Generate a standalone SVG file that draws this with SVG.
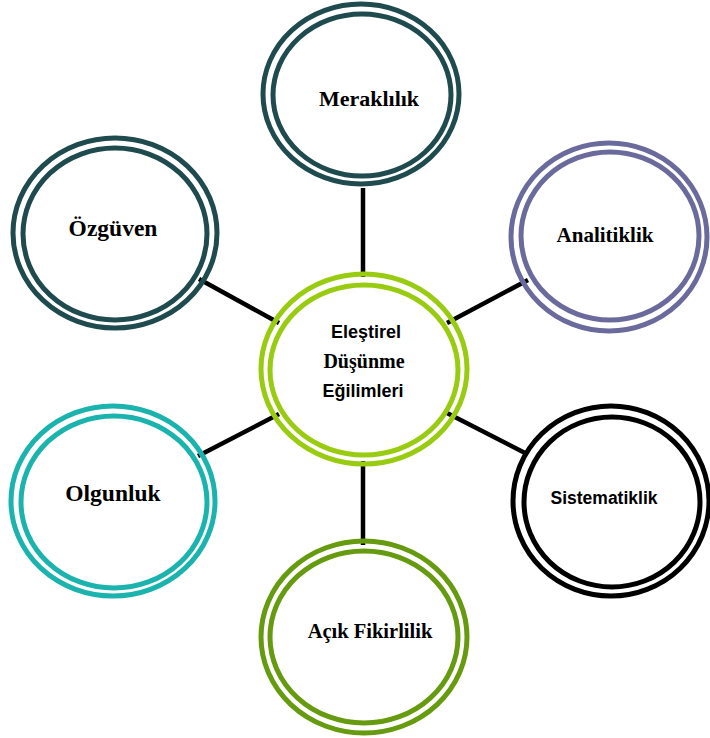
<svg xmlns="http://www.w3.org/2000/svg" width="710" height="738" viewBox="0 0 710 738">
<style>
.ring{fill:none;stroke-width:5}
.inner{fill:#fff}
.serif{font-family:"Liberation Serif","Times New Roman",serif;font-weight:bold;fill:#000}
.sans{font-family:"Liberation Sans",Arial,sans-serif;font-weight:bold;fill:#000}
.conn{stroke:#000;stroke-width:4.5;stroke-linecap:butt}
</style>
<rect width="710" height="738" fill="#fff"/>
<g id="connectors">
<line class="conn" x1="363" y1="188" x2="363" y2="277"/>
<line class="conn" x1="363" y1="461" x2="363" y2="545"/>
<line class="conn" x1="199" y1="279" x2="279" y2="323"/>
<line class="conn" x1="447" y1="323" x2="528" y2="280"/>
<line class="conn" x1="198" y1="456" x2="279" y2="414"/>
<line class="conn" x1="447" y1="413" x2="527" y2="454"/>
</g>
<g id="meraklilik">
<ellipse class="ring" cx="361" cy="94" rx="98" ry="90" stroke="#1f4b4f"/>
<ellipse class="ring" cx="362" cy="95" rx="89" ry="81" stroke="#1f4b4f"/>
<text class="serif" x="369" y="106" font-size="22" text-anchor="middle">Meraklılık</text>
</g>
<g id="ozguven">
<ellipse class="ring" cx="115" cy="233" rx="102" ry="95" stroke="#1f4b4f"/>
<ellipse class="ring" cx="115" cy="234" rx="92" ry="86" stroke="#1f4b4f"/>
<text class="serif" x="113" y="236" font-size="23.5" text-anchor="middle">Özgüven</text>
</g>
<g id="analitiklik">
<ellipse class="ring" cx="609" cy="237" rx="98" ry="94" stroke="#6b6a9c"/>
<ellipse class="ring" cx="610" cy="236" rx="89" ry="84" stroke="#6b6a9c"/>
<text class="serif" x="605" y="242" font-size="21" text-anchor="middle">Analitiklik</text>
</g>
<g id="olgunluk">
<ellipse class="ring" cx="113" cy="501" rx="102" ry="95" stroke="#1bb3ad"/>
<ellipse class="ring" cx="114" cy="502" rx="93" ry="86" stroke="#1bb3ad"/>
<text class="serif" x="113" y="501" font-size="23.5" text-anchor="middle">Olgunluk</text>
</g>
<g id="sistematiklik">
<ellipse class="ring" cx="611" cy="501" rx="98" ry="95" stroke="#000"/>
<ellipse class="ring" cx="612" cy="502" rx="88" ry="85" stroke="#000"/>
<text class="sans" x="604" y="504" font-size="17.5" text-anchor="middle">Sistematiklik</text>
</g>
<g id="acik-fikirlilik">
<ellipse class="ring" cx="364" cy="637" rx="103" ry="96" stroke="#669a0f"/>
<ellipse class="ring" cx="364" cy="637" rx="94" ry="86" stroke="#669a0f"/>
<text class="serif" x="370" y="638" font-size="20.5" text-anchor="middle">Açık Fikirlilik</text>
</g>
<g id="elestirel">
<ellipse class="ring" cx="364" cy="369" rx="103" ry="95" stroke="#99cc11"/>
<ellipse class="ring" cx="364" cy="370" rx="94" ry="85" stroke="#99cc11"/>
<text class="sans" x="366" y="338" font-size="18" text-anchor="middle">Eleştirel</text>
<text class="serif" x="364" y="368" font-size="20" text-anchor="middle">Düşünme</text>
<text class="sans" x="363" y="397" font-size="18" text-anchor="middle">Eğilimleri</text>
</g>
</svg>
